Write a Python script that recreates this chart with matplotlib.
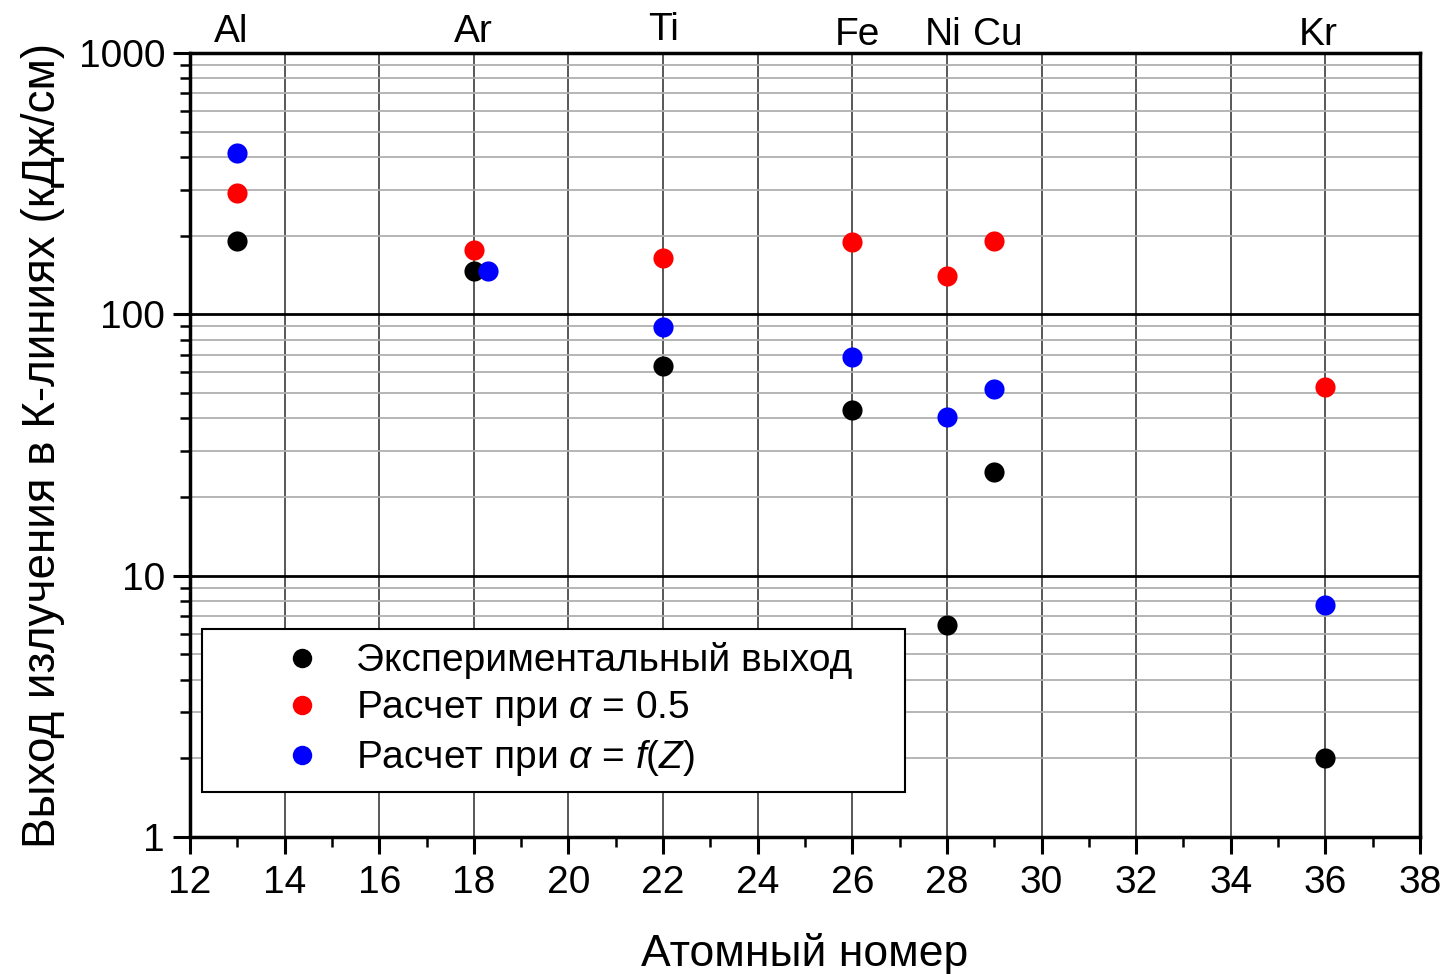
import matplotlib
matplotlib.use("Agg")
import matplotlib.pyplot as plt
import matplotlib.transforms as mtransforms
from matplotlib.ticker import FixedLocator, LogLocator, NullFormatter, FixedFormatter
import numpy as np

plt.rcParams['font.family'] = ['Liberation Sans', 'DejaVu Sans']
plt.rcParams['mathtext.fontset'] = 'custom'
plt.rcParams['mathtext.rm'] = 'Liberation Sans'
plt.rcParams['mathtext.it'] = 'Liberation Sans:italic'

# ---- data ----
elements = ["Al", "Ar", "Ti", "Fe", "Ni", "Cu", "Kr"]
z_numbers = [13, 18, 22, 26, 28, 29, 36]
z_blue = [13, 18.3, 22, 26, 28, 29, 36]
experimental = [191, 147, 63.5, 43, 6.5, 25, 2.0]
calc_half = [292, 176, 164, 189, 140, 191, 52.5]
calc_fz = [415, 147, 89.5, 68.5, 40.5, 52, 7.7]

label_exp = "Экспериментальный выход"
label_half = "Расчет при $\\alpha$ = 0.5"
label_fz = "Расчет при $\\alpha$ = $f(Z)$"
xlabel = "Атомный номер"
ylabel = "Выход излучения в К-линиях (кДж/см)"
xticks = list(range(12, 39, 2))
yticks = [1, 10, 100, 1000]
ytick_labels = ["1", "10", "100", "1000"]

FS = 28

fig = plt.figure(figsize=(14.44, 9.74), dpi=100)
ax = fig.add_axes([190/1444, 1 - 837/974, (1420-190)/1444, (837-53)/974])

ax.set_xlim(12, 38)
ax.set_ylim(1, 1000)
ax.set_yscale('log')

# grids
ax.xaxis.set_major_locator(FixedLocator(xticks))
ax.xaxis.set_minor_locator(FixedLocator(list(range(13, 38, 2))))
ax.yaxis.set_major_locator(FixedLocator(yticks))
ax.yaxis.set_major_formatter(FixedFormatter(ytick_labels))
ax.yaxis.set_minor_locator(LogLocator(base=10, subs=np.arange(2, 10), numticks=20))
ax.yaxis.set_minor_formatter(NullFormatter())

ax.grid(True, axis='x', which='major', color='#4a4a4a', lw=1.3, zorder=0)
ax.grid(True, axis='y', which='major', color='black', lw=2.0, zorder=0)
ax.grid(True, axis='y', which='minor', color='#b0b0b0', lw=1.3, zorder=0)
ax.set_axisbelow(True)

for s in ax.spines.values():
    s.set_linewidth(2.5)

ax.tick_params(axis='both', which='major', direction='out', length=12, width=2.2,
               labelsize=FS)
ax.tick_params(axis='x', which='major', pad=8)
ax.tick_params(axis='y', which='major', pad=6)
ax.tick_params(axis='both', which='minor', direction='out', length=7, width=1.8)

ms = 14.5
ax.plot(z_numbers, experimental, 'o', color='black', ms=ms, mec='none', label=label_exp, zorder=3)
ax.plot(z_numbers, calc_half, 'o', color='#ff0000', ms=ms, mec='none', label=label_half, zorder=3)
ax.plot(z_blue, calc_fz, 'o', color='#0000ff', ms=ms, mec='none', label=label_fz, zorder=4)

ax.set_xlabel(xlabel, fontsize=32, labelpad=23)
ax.set_ylabel(ylabel, fontsize=33, labelpad=10)

# element labels above the top axis
offsets = [0.014, 0.014, 0.017, 0.010, 0.010, 0.010, 0.010]
xshift_px = [-6, 0, 0, 5, -4, 4, -7]
for el, z, off, dx in zip(elements, z_numbers, offsets, xshift_px):
    tr = mtransforms.offset_copy(ax.get_xaxis_transform(), fig=fig, x=dx * 0.72, y=0,
                                 units='points')
    ax.text(z, 1 + off, el, transform=tr, ha='center', va='baseline', fontsize=FS)

# legend
x0 = (202 - 190) / 1230
w = (905 - 202) / 1230
y0 = (837 - 788) / 784
h = (788 - 629) / 784
leg = ax.legend(loc='upper left', bbox_to_anchor=(x0, y0, w, h), mode='expand',
                borderaxespad=0, fontsize=FS, frameon=True, fancybox=False,
                edgecolor='black', framealpha=1, numpoints=1,
                borderpad=0.34, handlelength=4.44, handletextpad=-0.81,
                labelspacing=0.26)
leg.get_frame().set_linewidth(1.5)
for hnd in leg.legend_handles:
    hnd.set_markersize(14)

fig.savefig('out.png', dpi=100)
